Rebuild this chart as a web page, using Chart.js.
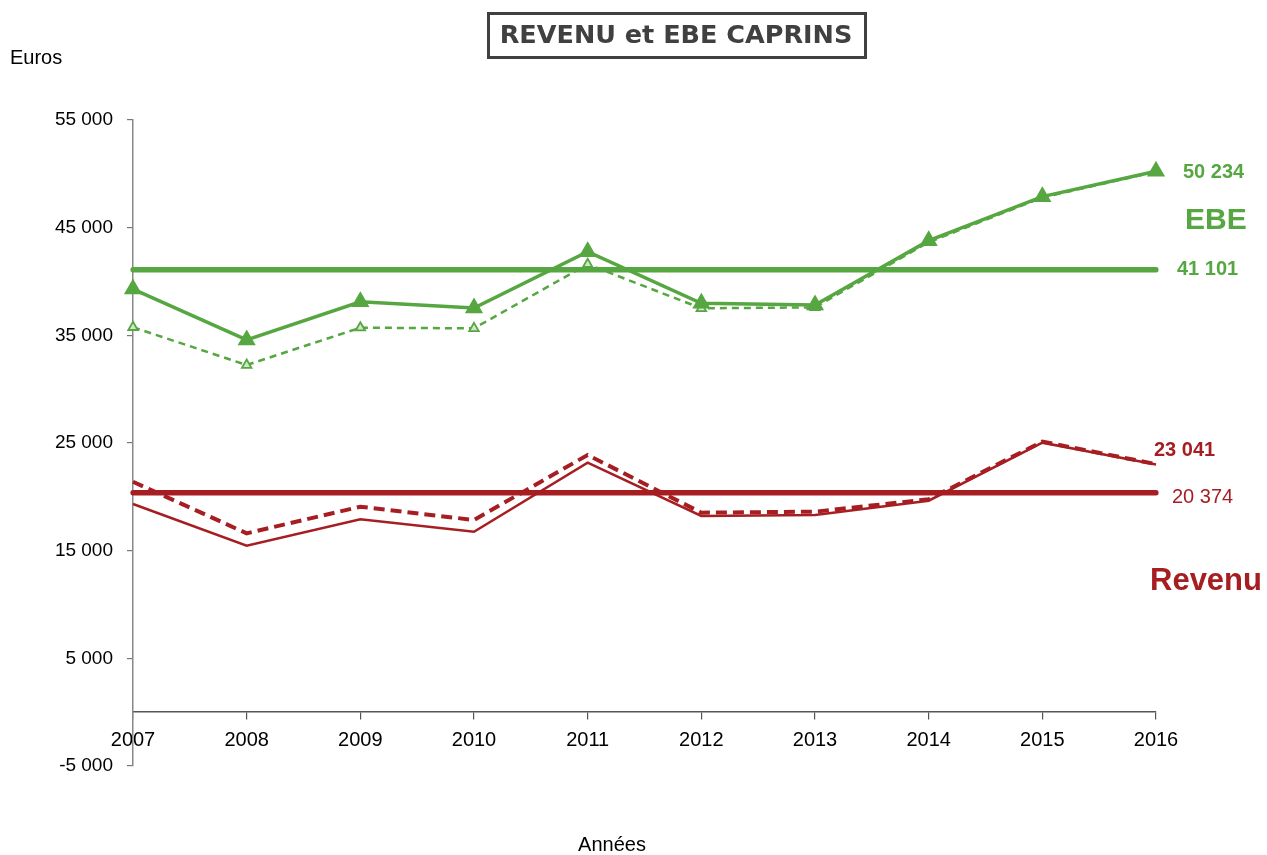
<!DOCTYPE html>
<html>
<head>
<meta charset="utf-8">
<script src="https://cdn.jsdelivr.net/npm/chart.js@4.4.1/dist/chart.umd.min.js"></script>
<style>
  html, body { margin: 0; padding: 0; background: #fff; }
  #wrap { position: relative; width: 1267px; height: 855px; }
  canvas { display: block; }
</style>
</head>
<body>
<div id="wrap"><canvas id="c" width="1267" height="855"></canvas></div>
<script>
// ---- data ----
const years = ['2007','2008','2009','2010','2011','2012','2013','2014','2015','2016'];
const ebeMain = [39300, 34570, 38120, 37540, 42770, 37980, 37820, 43790, 47880, 50234];
const ebeOther = [35750, 32240, 35710, 35650, 41600, 37510, 37600, 43650, 47800, 50200];
const revenuMain = [21400, 16610, 19080, 17850, 23890, 18530, 18620, 19770, 25130, 23041];
const revenuOther = [19330, 15460, 17910, 16760, 23170, 18220, 18310, 19640, 25030, 23000];
const ebeMeanValue = 41101;
const revenuMeanValue = 20374;
const yTicks = [-5000, 5000, 15000, 25000, 35000, 45000, 55000];

const GREEN = '#56A641';
const GREEN_LIGHT = '#cfe7c8';
const RED = '#A61E22';

const ebeMean = years.map(() => ebeMeanValue);
const revenuMean = years.map(() => revenuMeanValue);

function fmt(v) {
  const s = Math.abs(v).toString().replace(/\B(?=(\d{3})+(?!\d))/g, ' ');
  return (v < 0 ? '-' : '') + s;
}

const textPlugin = {
  id: 'texts',
  afterDraw(chart) {
    const ctx = chart.ctx;
    const y = chart.scales.y;
    ctx.save();
    // title box
    ctx.strokeStyle = '#404040';
    ctx.lineWidth = 3;
    ctx.strokeRect(488.5, 13.5, 377, 44);
    ctx.fillStyle = '#404040';
    ctx.font = 'bold 25.5px "DejaVu Sans"';
    ctx.textAlign = 'center';
    ctx.textBaseline = 'middle';
    ctx.fillText('REVENU et EBE CAPRINS', 676, 36);

    // axis titles
    ctx.fillStyle = '#000';
    ctx.font = '20px "Liberation Sans"';
    ctx.textAlign = 'left';
    ctx.fillText('Euros', 10, 58);
    ctx.textAlign = 'center';
    ctx.fillText('Années', 612, 845);

    // right-side labels
    ctx.textAlign = 'left';
    ctx.fillStyle = GREEN;
    ctx.font = 'bold 20px "Liberation Sans"';
    ctx.fillText(fmt(ebeMain[ebeMain.length - 1]), 1183, y.getPixelForValue(ebeMain[ebeMain.length - 1]) + 1);
    ctx.fillText(fmt(ebeMeanValue), 1177, y.getPixelForValue(ebeMeanValue));
    ctx.font = 'bold 30px "Liberation Sans"';
    ctx.fillText('EBE', 1185, 221);

    ctx.fillStyle = RED;
    ctx.font = 'bold 20px "Liberation Sans"';
    ctx.fillText(fmt(revenuMain[revenuMain.length - 1]), 1154, y.getPixelForValue(revenuMain[revenuMain.length - 1]) - 14);
    ctx.font = '20px "Liberation Sans"';
    ctx.fillText(fmt(revenuMeanValue), 1172, y.getPixelForValue(revenuMeanValue) + 5);
    ctx.font = 'bold 31px "Liberation Sans"';
    ctx.fillText('Revenu', 1150, 581);
    ctx.restore();
  }
};

new Chart(document.getElementById('c'), {
  type: 'line',
  data: {
    labels: years,
    datasets: [
      {
        data: ebeMain, borderColor: GREEN, backgroundColor: GREEN, borderWidth: 3.5,
        pointStyle: 'triangle', pointRadius: 7, pointBackgroundColor: GREEN, pointBorderColor: GREEN,
        tension: 0, fill: false
      },
      {
        data: revenuMain, borderColor: RED, borderWidth: 4, borderDash: [11, 6],
        pointRadius: 0, tension: 0, fill: false
      },
      {
        data: ebeOther, borderColor: GREEN, borderWidth: 2.5, borderDash: [7, 5],
        pointStyle: 'triangle', pointRadius: 5.5, pointBackgroundColor: GREEN_LIGHT, pointBorderColor: GREEN,
        pointBorderWidth: 1.8, tension: 0, fill: false
      },
      {
        data: revenuOther, borderColor: RED, borderWidth: 2.5,
        pointRadius: 0, tension: 0, fill: false
      },
      {
        data: ebeMean, borderColor: GREEN, borderWidth: 5.5, borderCapStyle: 'round',
        pointRadius: 0, tension: 0, fill: false
      },
      {
        data: revenuMean, borderColor: RED, borderWidth: 5.5, borderCapStyle: 'round',
        pointRadius: 0, tension: 0, fill: false
      }
    ]
  },
  options: {
    responsive: false,
    animation: false,
    layout: { padding: { left: 0, right: 111, top: 120, bottom: 89 } },
    plugins: { legend: { display: false }, tooltip: { enabled: false }, title: { display: false } },
    scales: {
      x: {
        type: 'category',
        offset: false,
        position: { y: 0 },
        grid: { display: true, drawOnChartArea: false, drawTicks: true, tickLength: 7, color: '#555', lineWidth: 1.2 },
        border: { display: true, color: '#555', width: 1.5 },
        ticks: { color: '#000', font: { family: 'Liberation Sans', size: 20 }, padding: 9, maxRotation: 0, autoSkip: false }
      },
      y: {
        min: -5000, max: 55000,
        afterBuildTicks(scale) { scale.ticks = yTicks.map(v => ({ value: v })); },
        afterFit(scale) { scale.width = 133; },
        grid: { display: true, drawOnChartArea: false, drawTicks: true, tickLength: 6, color: '#777', lineWidth: 1.2 },
        border: { display: true, color: '#888', width: 1.5 },
        ticks: { color: '#000', font: { family: 'Liberation Sans', size: 19 }, padding: 14, callback: v => fmt(v) }
      }
    }
  },
  plugins: [textPlugin]
});
</script>
</body>
</html>
